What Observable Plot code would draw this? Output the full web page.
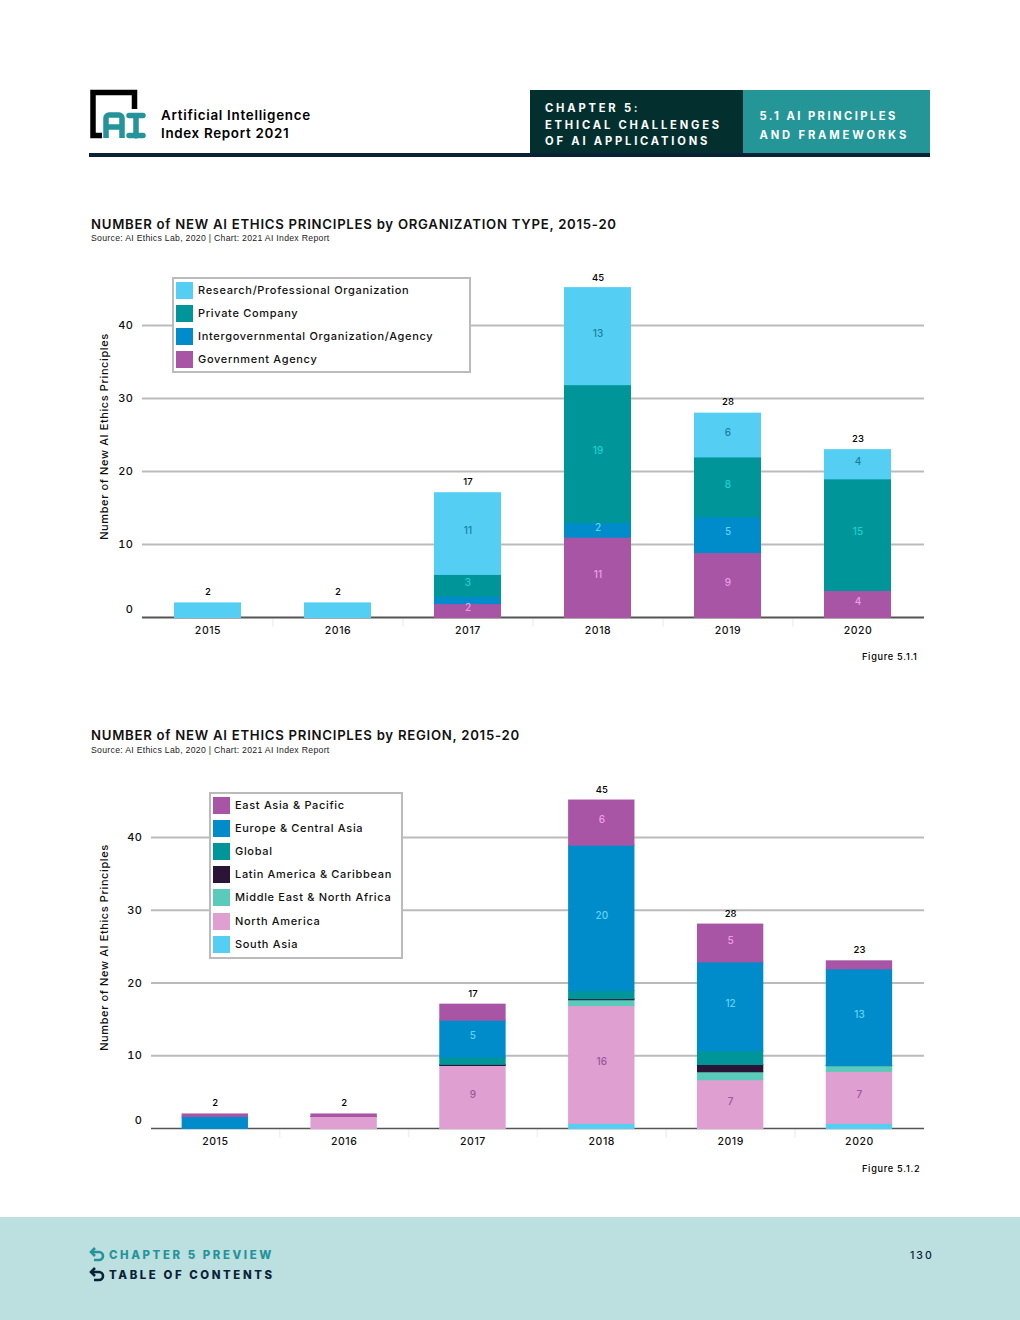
<!DOCTYPE html>
<html><head><meta charset="utf-8">
<script src="https://cdn.jsdelivr.net/npm/d3@7"></script>
<script src="https://cdn.jsdelivr.net/npm/@observablehq/plot@0.6"></script>
<style>
html,body{margin:0;padding:0;background:#fff}
#page{position:relative;width:1020px;height:1320px;overflow:hidden;font-family:Inter,sans-serif;color:#000}
#page>*{position:absolute}
.t{white-space:nowrap;line-height:1}
.title{font-size:13.2px;font-weight:600;letter-spacing:.73px;color:#111}
.src{font-size:8.7px;letter-spacing:.29px;color:#222;font-family:"Liberation Sans",Inter,sans-serif}
.fig{font-size:9.2px;font-weight:500;letter-spacing:.7px}
.hd{font-size:11.2px;font-weight:700;letter-spacing:2.8px;color:#fff}
.foot{font-size:11.4px;font-weight:800;letter-spacing:2.6px}
.legend{box-sizing:border-box;border:2px solid #bbb;background:#fff}
.legend div{position:absolute;white-space:nowrap}
.legend .sw{width:17px;height:17px}
.legend .lb{font-size:11px;letter-spacing:.68px;line-height:17px;font-weight:500;color:#111}
svg text{font-family:Inter,sans-serif}
g[aria-label="y-axis label"] text{letter-spacing:.6px}
g[aria-label="x-axis tick label"] text{letter-spacing:.55px}
g[aria-label="y-axis tick label"] text{letter-spacing:.5px}
</style></head><body>
<div id="page">
<svg style="left:85px;top:85px" width="65" height="60" viewBox="85 85 65 60">
  <path d="M102 135.5H93V92.5H134.5V109" fill="none" stroke="#000" stroke-width="5.5"/>
  <path d="M106 138V118a3 3 0 0 1 3-3H119a3 3 0 0 1 3 3V138M106 127H122" fill="none" stroke="#24949a" stroke-width="5.5"/>
  <path d="M129 115.5H143M136 115.5V136M129 135.5H143" fill="none" stroke="#24949a" stroke-width="5.5" stroke-linecap="round"/>
</svg>
<div class="t" style="left:161px;top:108.5px;font-size:13.4px;font-weight:600;letter-spacing:.72px">Artificial Intelligence</div>
<div class="t" style="left:161px;top:126.5px;font-size:13.4px;font-weight:600;letter-spacing:.68px">Index Report 2021</div>
<div style="left:530px;top:90px;width:213px;height:63px;background:#03302f"></div>
<div style="left:743px;top:90px;width:187px;height:63px;background:#249698"></div>
<div style="left:89px;top:153px;width:841px;height:4px;background:#0a2238"></div>
<div class="t hd" style="left:545px;top:102.5px">CHAPTER 5:</div>
<div class="t hd" style="left:545px;top:119.5px">ETHICAL CHALLENGES</div>
<div class="t hd" style="left:545px;top:135.5px">OF AI APPLICATIONS</div>
<div class="t hd" style="left:759.5px;top:110.5px;letter-spacing:2.45px">5.1 AI PRINCIPLES</div>
<div class="t hd" style="left:759.5px;top:129.5px;letter-spacing:2.85px">AND FRAMEWORKS</div>

<div class="t title" style="left:91px;top:217.5px">NUMBER of NEW AI ETHICS PRINCIPLES by ORGANIZATION TYPE, 2015-20</div>
<div class="t src" style="left:91px;top:234px">Source: AI Ethics Lab, 2020 | Chart: 2021 AI Index Report</div>
<div id="chart1" style="left:0;top:250px"></div>
<div id="legend1" class="legend" style="left:172px;top:277px;width:299px;height:96px"></div>
<div class="t fig" style="left:862px;top:652px">Figure 5.1.1</div>

<div class="t title" style="left:91px;top:728.5px">NUMBER of NEW AI ETHICS PRINCIPLES by REGION, 2015-20</div>
<div class="t src" style="left:91px;top:746px">Source: AI Ethics Lab, 2020 | Chart: 2021 AI Index Report</div>
<div id="chart2" style="left:0;top:761px"></div>
<div id="legend2" class="legend" style="left:209px;top:792px;width:194px;height:167px"></div>
<div class="t fig" style="left:862px;top:1164px">Figure 5.1.2</div>

<div style="left:0;top:1217px;width:1020px;height:103px;background:#bcdfe0"></div>
<svg style="left:88px;top:1247px" width="18" height="36" viewBox="0 0 18 36">
  <g fill="none" stroke-width="2.6">
    <path d="M5 5H11a4 4 0 0 1 0 8H6" stroke="#24949a"/><path d="M7 1L3 5L7 9" stroke="#24949a"/>
    <path d="M5 25H11a4 4 0 0 1 0 8H6" stroke="#0a2238"/><path d="M7 21L3 25L7 29" stroke="#0a2238"/>
  </g>
</svg>
<div class="t foot" style="left:109px;top:1250px;color:#24949a">CHAPTER 5 PREVIEW</div>
<div class="t foot" style="left:109px;top:1270px;color:#0a2238">TABLE OF CONTENTS</div>
<div class="t" style="left:910px;top:1251px;font-size:10.5px;font-weight:500;letter-spacing:2px;color:#0a2238">130</div>
</div>
<script>
const years = ["2015","2016","2017","2018","2019","2020"];
const totals = [2,2,17,45,28,23];
const yTicks = [10,20,30,40];
const yTitle = "Number of New AI Ethics Principles";

// Figure 5.1.1 (bottom of the stack first)
const orgSeries = ["Government Agency","Intergovernmental Organization/Agency","Private Company","Research/Professional Organization"];
const government = [0,0,1.9,11,8.9,3.7];
const intergovernmental = [0,0,1,2,4.9,0];
const privateCompany = [0,0,3,18.9,8.2,15.3];
const research = [2,2,11.2,13.3,6,4];
const governmentLabels = [null,null,"2","11","9","4"];
const intergovernmentalLabels = [null,null,null,"2","5",null];
const privateLabels = [null,null,"3","19","8","15"];
const researchLabels = [null,null,"11","13","6","4"];
const orgColors = ["#a855a6","#008cca","#009599","#54cff3"];
const orgLabelColors = ["#ec9fe4","#62d3f7","#1fd1cf","#1a7f9c"];

// Figure 5.1.2 (bottom of the stack first)
const regionSeries = ["South Asia","North America","Middle East & North Africa","Latin America & Caribbean","Global","Europe & Central Asia","East Asia & Pacific"];
const southAsia = [0,0,0,0.7,0,0.7];
const northAmerica = [0,1.65,8.66,16.2,6.7,7.15];
const middleEast = [0,0,0,0.8,1.1,0.8];
const latinAmerica = [0,0,0.15,0.15,1,0];
const globalOrg = [0,0,1,1.1,1.9,0];
const europe = [1.65,0,5.08,20,12.2,13.3];
const eastAsia = [0.35,0.35,2.2,6.2,5.2,1.1];
const northAmericaLabels = [null,null,"9","16","7","7"];
const europeLabels = [null,null,"5","20","12","13"];
const eastAsiaLabels = [null,null,null,"6","5",null];
const noLabels = [null,null,null,null,null,null];
const regionColors = ["#54cff3","#df9fd0","#5acbba","#2a1536","#009599","#008cca","#a855a6"];
const regionLabelColors = ["#1a7f9c","#98589a","#1d8c80","#fff","#1fd1cf","#62d3f7","#ec9fe4"];

function rows(seriesNames, values, labels, labelColors){
  return seriesNames.flatMap((s,i)=>years.map((yr,j)=>({year:yr,series:s,value:values[i][j],label:labels[i][j],labelColor:labelColors[i]})));
}

function chart(opts){
  const {data,names,colors,yMax,marginLeft,base} = opts;
  return Plot.plot({
    width:1020,height:390,marginTop:5,marginBottom:23,marginLeft,marginRight:96,
    style:{background:"transparent",overflow:"visible"},
    x:{domain:years,paddingInner:0.485,paddingOuter:0.2425,label:null,...opts.band},
    y:{domain:[0,yMax],label:null},
    color:{domain:names,range:colors},
    marks:[
      Plot.ruleX(years.slice(1),{x:d=>d,dx:-opts.half,y1:0,y2:-1.3,stroke:"#f0f0f0",strokeWidth:1.5}),
      Plot.ruleY(yTicks,{stroke:"#bbb",strokeWidth:2}),
      Plot.ruleY([0],{stroke:"#555",strokeWidth:base}),
      Plot.barY(data,{x:"year",y:"value",fill:"series",order:null,insetBottom:-1}),
      Plot.text(data,Plot.stackY({x:"year",y:"value",z:"series",order:null,text:"label",fill:{value:d=>d.labelColor,scale:null},fontSize:10,fontWeight:500,dy:-2.5})),
      Plot.text(years,{x:d=>d,y:totals,text:(d,i)=>String(totals[i]),dy:-11,fontSize:9.5,fontWeight:500,fill:"#000"}),
      Plot.axisY({ticks:yTicks,tickSize:0,tickPadding:9,fontSize:11,fontWeight:500,label:yTitle,labelAnchor:"center",labelArrow:"none",labelOffset:opts.labelOffset,color:"#111"}),
      Plot.axisY({ticks:[0],tickSize:0,tickPadding:9,fontSize:11,fontWeight:500,dy:-8,label:null,color:"#111"}),
      Plot.axisX({tickSize:0,tickPadding:9,fontSize:10.5,fontWeight:500,label:null,color:"#111"})
    ]
  });
}

function legend(el,names,colors){
  names.forEach((n,i)=>{
    const top = 3 + 23.1*i;
    const sw = document.createElement("div"); sw.className="sw";
    sw.style.cssText = `left:2px;top:${top}px;background:${colors[i]}`;
    const lb = document.createElement("div"); lb.className="lb";
    lb.style.cssText = `left:24px;top:${top}px`; lb.textContent = n;
    el.append(sw,lb);
  });
}

const orgData = rows(orgSeries,[government,intergovernmental,privateCompany,research],
  [governmentLabels,intergovernmentalLabels,privateLabels,researchLabels],orgLabelColors);
const regionData = rows(regionSeries,[southAsia,northAmerica,middleEast,latinAmerica,globalOrg,europe,eastAsia],
  [noLabels,northAmericaLabels,noLabels,noLabels,noLabels,europeLabels,eastAsiaLabels],regionLabelColors);

document.getElementById("chart1").append(chart({data:orgData,names:orgSeries,colors:orgColors,yMax:49.6,marginLeft:142,base:2,half:65,labelOffset:42,band:{align:0.49}}));
document.getElementById("chart2").append(chart({data:regionData,names:regionSeries,colors:regionColors,yMax:49.76,marginLeft:151,base:1.4,half:64.4,labelOffset:51,band:{round:false,align:0.49}}));
legend(document.getElementById("legend1"),orgSeries.slice().reverse(),orgColors.slice().reverse());
legend(document.getElementById("legend2"),regionSeries.slice().reverse(),regionColors.slice().reverse());
</script>
</body></html>
